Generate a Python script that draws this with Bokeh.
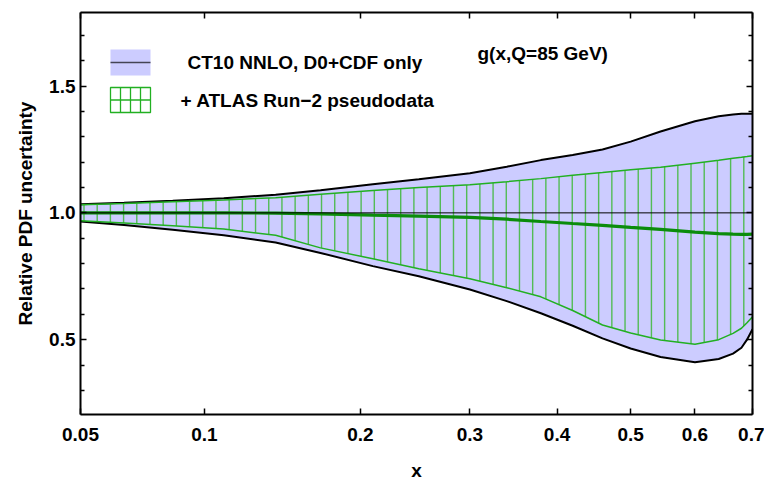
import numpy as np
from bokeh.plotting import figure
from bokeh.models import (Range1d, LinearAxis, FixedTicker, CustomJSTickFormatter,
                          Span, Label, PrintfTickFormatter)
from bokeh.embed import file_html
from bokeh.resources import INLINE

# ---- data (x, relative uncertainty) ----
x_vals = [0.05, 0.065, 0.085, 0.11, 0.14, 0.17, 0.21, 0.25, 0.30, 0.34, 0.38,
          0.42, 0.46, 0.50, 0.545, 0.60, 0.64, 0.665, 0.68, 0.69, 0.70]
ct10_upper = [1.034, 1.040, 1.048, 1.058, 1.071, 1.089, 1.113, 1.133, 1.156, 1.182, 1.208,
              1.228, 1.250, 1.281, 1.321, 1.361, 1.381, 1.388, 1.391, 1.391, 1.391]
ct10_lower = [0.966, 0.952, 0.933, 0.912, 0.883, 0.842, 0.790, 0.750, 0.698, 0.652, 0.604,
              0.555, 0.505, 0.465, 0.432, 0.411, 0.424, 0.445, 0.468, 0.500, 0.541]
atlas_upper = [1.032, 1.037, 1.044, 1.051, 1.060, 1.073, 1.088, 1.100, 1.111, 1.123, 1.135,
               1.148, 1.159, 1.170, 1.180, 1.196, 1.207, 1.215, 1.219, 1.222, 1.225]
atlas_lower = [0.969, 0.960, 0.949, 0.936, 0.912, 0.862, 0.819, 0.780, 0.740, 0.705, 0.669,
               0.615, 0.558, 0.526, 0.499, 0.482, 0.500, 0.525, 0.545, 0.567, 0.590]
atlas_central = [1.0, 1.0, 1.0, 1.0, 0.999, 0.996, 0.991, 0.987, 0.982, 0.975, 0.966,
                 0.958, 0.951, 0.943, 0.935, 0.924, 0.918, 0.916, 0.915, 0.915, 0.916]

x_tick_values = [0.05, 0.1, 0.2, 0.3, 0.4, 0.5, 0.6, 0.7]
y_major_ticks = [0.5, 1.0, 1.5]
y_minor_ticks = [0.3, 0.4, 0.6, 0.7, 0.8, 0.9, 1.1, 1.2, 1.3, 1.4, 1.6, 1.7]
legend_labels = ["CT10 NNLO, D0+CDF only", "+ ATLAS Run\u22122 pseudodata"]
title_text = "g(x,Q=85 GeV)"

# x axis uses an x^(1/3) scale
def tr(v):
    return np.asarray(v, dtype=float) ** (1.0 / 3.0)

X0, X1 = 0.05, 0.70
Y0, Y1 = 0.205, 1.79
T0, T1 = float(tr(X0)), float(tr(X1))

W, H = 764, 483
L, R, TOP, B = 80, 12, 12, 69
FW, FH = W - L - R, H - TOP - B

FONT = "Liberation Sans"
FS = "19px"

p = figure(width=W, height=H, output_backend="svg", toolbar_location=None,
           x_range=Range1d(T0, T1), y_range=Range1d(Y0, Y1),
           min_border_left=L, min_border_right=R, min_border_top=TOP,
           min_border_bottom=B, x_axis_location=None, y_axis_location=None)
p.grid.visible = False
p.outline_line_color = None
p.background_fill_color = "white"
p.border_fill_color = "white"

# helpers for placing legend items in frame pixels
def sx(px):
    return T0 + (px - L) / FW * (T1 - T0)

def sy(py):
    return Y1 - (py - TOP) / FH * (Y1 - Y0)

t = tr(x_vals)

LAV = "#ccccff"
GREEN = "#22b022"
HATCH = "#4cbb4c"
DGREEN = "#0b8c0b"

# CT10 band
p.varea(x=t, y1=ct10_lower, y2=ct10_upper, fill_color=LAV, fill_alpha=1.0)
p.line(t, ct10_upper, line_color="black", line_width=2)
p.line(t, ct10_lower, line_color="black", line_width=2)

# ATLAS hatched band (vertical hatch lines)
n_hatch = 51
th = np.linspace(sx(83.5), sx(743.3), n_hatch)
h_lo = np.interp(th, t, atlas_lower)
h_hi = np.interp(th, t, atlas_upper)
p.segment(x0=th, y0=h_lo, x1=th, y1=h_hi, line_color=HATCH, line_width=1.4, line_alpha=0.95)
p.line(t, atlas_upper, line_color=GREEN, line_width=1.5)
p.line(t, atlas_lower, line_color=GREEN, line_width=1.5)

# reference line at 1
p.add_layout(Span(location=1.0, dimension="width", line_color="black", line_width=1))
p.line(t, atlas_central, line_color=DGREEN, line_width=3.2)

# ---- axes ----
xt = FixedTicker(ticks=list(tr(x_tick_values)))
xfmt = CustomJSTickFormatter(code="""
const v = Math.round(Math.pow(tick, 3) * 100) / 100;
return v.toString();
""")
blank = CustomJSTickFormatter(code="return '';")
yt = FixedTicker(ticks=y_major_ticks, minor_ticks=y_minor_ticks)

def style(ax):
    ax.axis_line_width = 2
    ax.axis_line_color = "black"
    ax.major_tick_in = 6
    ax.major_tick_out = 0
    ax.minor_tick_in = 4
    ax.minor_tick_out = 0
    ax.major_tick_line_width = 1.5
    ax.minor_tick_line_width = 1.5
    ax.major_label_text_font = FONT
    ax.major_label_text_font_style = "bold"
    ax.major_label_text_font_size = FS
    ax.major_label_text_color = "black"
    ax.axis_label_text_font = FONT
    ax.axis_label_text_font_style = "bold"
    ax.axis_label_text_font_size = FS
    ax.axis_label_text_color = "black"

xb = LinearAxis(ticker=xt, formatter=xfmt, axis_label="x")
style(xb)
xb.major_label_standoff = 13
xb.axis_label_standoff = 16
p.add_layout(xb, "below")

xa = LinearAxis(ticker=xt, formatter=blank)
style(xa)
xa.major_label_standoff = 0
p.add_layout(xa, "above")

yl = LinearAxis(ticker=yt, formatter=PrintfTickFormatter(format="%.1f"),
                axis_label="Relative PDF uncertainty")
style(yl)
yl.major_label_standoff = 5
yl.axis_label_standoff = 10
p.add_layout(yl, "left")

yr = LinearAxis(ticker=yt, formatter=blank)
style(yr)
yr.major_label_standoff = 0
p.add_layout(yr, "right")

# ---- legend (drawn manually) ----
p.quad(left=[sx(110)], right=[sx(150)], bottom=[sy(75)], top=[sy(49)],
       fill_color=LAV, line_color=None)
p.segment(x0=[sx(110)], y0=[sy(62)], x1=[sx(150)], y1=[sy(62)],
          line_color="#444455", line_width=1.5)
p.quad(left=[sx(110)], right=[sx(150)], bottom=[sy(112)], top=[sy(87)],
       fill_color=None, line_color=GREEN, line_width=1.3)
gx = [sx(120), sx(130), sx(140)]
p.segment(x0=gx, y0=[sy(112)] * 3, x1=gx, y1=[sy(87)] * 3,
          line_color=GREEN, line_width=1.3)
p.segment(x0=[sx(110)], y0=[sy(99.5)], x1=[sx(150)], y1=[sy(99.5)],
          line_color=GREEN, line_width=1.3)

for txt, px, py in [(legend_labels[0], 187, 62), (legend_labels[1], 180, 100),
                    (title_text, 477, 53)]:
    p.add_layout(Label(x=sx(px), y=sy(py), text=txt, text_font=FONT,
                       text_font_style="bold", text_font_size=FS,
                       text_baseline="middle", text_align="left",
                       text_color="black"))

open("out.html", "w").write(file_html(p, INLINE))
